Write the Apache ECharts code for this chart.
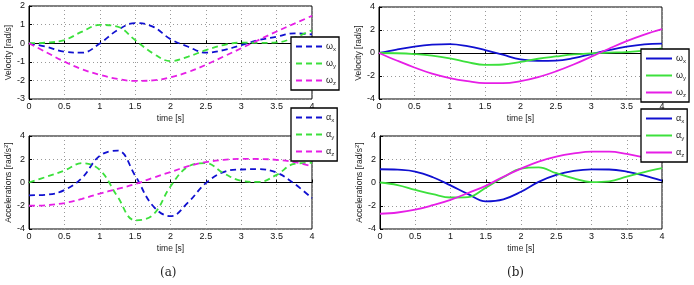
<!DOCTYPE html>
<html>
<head>
    <meta charset="UTF-8">
    <title>angular velocity / acceleration</title>
    <style>
        html, body { margin: 0; padding: 0; background: #fff; }
        #main { width: 694px; height: 285px; }
    </style>
</head>
<body>
<div id="main"></div>
<script src="https://cdn.jsdelivr.net/npm/echarts@6/dist/echarts.min.js"></script>
<script>
    // time samples [s]
    var time = [0, 0.25, 0.5, 0.75, 1, 1.25, 1.5, 1.75, 2, 2.25, 2.5, 2.75, 3, 3.25, 3.5, 3.75, 4];

    // (a) velocity, dashed
    var aWx = [0, -0.2, -0.46, -0.51, -0.02, 0.7, 1.08, 0.89, 0.22, -0.19, -0.51, -0.37, -0.1, 0.17, 0.35, 0.53, 0.47];
    var aWy = [0, 0.03, 0.17, 0.62, 0.98, 0.89, 0.17, -0.54, -0.96, -0.72, -0.37, -0.1, 0.03, 0.02, 0.04, 0.3, 0.7];
    var aWz = [0, -0.5, -0.99, -1.4, -1.7, -1.92, -2.03, -2.0, -1.83, -1.55, -1.16, -0.72, -0.27, 0.18, 0.63, 1.05, 1.47];
    // (a) acceleration, dashed
    var aAx = [-1.1, -1.05, -0.65, 0.4, 2.3, 2.75, 0.6, -2.0, -2.9, -1.7, -0.05, 0.9, 1.12, 1.15, 0.85, -0.1, -1.35];
    var aAy = [0, 0.5, 1.03, 1.66, 1.09, -1.2, -3.25, -2.8, -0.34, 1.37, 1.66, 0.8, 0.15, 0.05, 0.66, 1.6, 1.7];
    var aAz = [-2.0, -1.95, -1.77, -1.4, -0.95, -0.55, -0.14, 0.4, 0.9, 1.4, 1.75, 1.95, 2.03, 2.02, 1.95, 1.75, 1.4];

    // (b) velocity, solid
    var bWx = [0, 0.3, 0.55, 0.72, 0.78, 0.6, 0.26, -0.15, -0.55, -0.68, -0.66, -0.45, -0.1, 0.25, 0.55, 0.75, 0.82];
    var bWy = [0, -0.02, -0.09, -0.22, -0.46, -0.8, -1.03, -1.0, -0.78, -0.5, -0.3, -0.12, -0.03, 0.03, 0.08, 0.2, 0.4];
    var bWz = [0, -0.65, -1.26, -1.8, -2.18, -2.45, -2.62, -2.62, -2.45, -2.1, -1.6, -1.0, -0.32, 0.37, 1.03, 1.6, 2.07];
    // (b) acceleration, solid
    var bAx = [1.14, 1.1, 0.94, 0.45, -0.25, -1.0, -1.62, -1.45, -0.8, 0.05, 0.65, 1.0, 1.13, 1.12, 0.94, 0.6, 0.17];
    var bAy = [0, -0.22, -0.63, -1.0, -1.29, -1.25, -0.45, 0.45, 1.2, 1.3, 0.8, 0.35, 0.03, 0.1, 0.5, 0.9, 1.23];
    var bAz = [-2.69, -2.58, -2.34, -1.95, -1.49, -0.9, -0.29, 0.5, 1.2, 1.8, 2.23, 2.5, 2.66, 2.66, 2.46, 2.15, 1.8];

    var colors = ['#1010d0', '#3ce03c', '#e61ee6'];
    var font = 'Liberation Sans, Arial, sans-serif';

    var grids = [
        {left: 29, top: 6, width: 283, height: 93},
        {left: 29, top: 136, width: 283, height: 93},
        {left: 379, top: 7, width: 283, height: 92},
        {left: 380, top: 136, width: 282, height: 93}
    ];

    function pairs(vals) {
        var out = [];
        for (var i = 0; i < time.length; i++) out.push([time[i], vals[i]]);
        return out;
    }

    var labels = {};
    var series = [];
    function addSeries(gi, key, greek, sub, vals, ci, dashed) {
        labels[key] = '{g|' + greek + '}{s|' + sub + '}';
        series.push({
            name: key,
            type: 'line',
            xAxisIndex: gi,
            yAxisIndex: gi,
            data: pairs(vals),
            smooth: 0.4,
            symbol: 'none',
            color: colors[ci],
            lineStyle: {width: 1.8, color: colors[ci], type: dashed ? [6, 4] : 'solid'},
            animation: false
        });
    }
    addSeries(0, 'aWx', 'ω', 'x', aWx, 0, true);
    addSeries(0, 'aWy', 'ω', 'y', aWy, 1, true);
    addSeries(0, 'aWz', 'ω', 'z', aWz, 2, true);
    addSeries(1, 'aAx', 'α', 'x', aAx, 0, true);
    addSeries(1, 'aAy', 'α', 'y', aAy, 1, true);
    addSeries(1, 'aAz', 'α', 'z', aAz, 2, true);
    addSeries(2, 'bWx', 'ω', 'x', bWx, 0, false);
    addSeries(2, 'bWy', 'ω', 'y', bWy, 1, false);
    addSeries(2, 'bWz', 'ω', 'z', bWz, 2, false);
    addSeries(3, 'bAx', 'α', 'x', bAx, 0, false);
    addSeries(3, 'bAy', 'α', 'y', bAy, 1, false);
    addSeries(3, 'bAz', 'α', 'z', bAz, 2, false);

    var yRanges = [[-3, 2, 1], [-4, 4, 2], [-4, 4, 2], [-4, 4, 2]];
    var yNames = [
        'Velocity [rad/s]',
        '{t|Accelerations [rad/s}{p|2}{t|]}',
        'Velocity [rad/s]',
        '{t|Accelerations [rad/s}{p|2}{t|]}'
    ];

    var xAxes = [], yAxes = [];
    grids.forEach(function (g, i) {
        g.show = true;
        g.borderColor = '#000';
        g.borderWidth = 1;
        g.backgroundColor = '#fff';
        xAxes.push({
            type: 'value', gridIndex: i, min: 0, max: 4, interval: 0.5,
            name: 'time [s]', nameLocation: 'middle', nameGap: 15,
            nameTextStyle: {fontFamily: font, fontSize: 8.5, color: '#222'},
            axisLine: {show: true, lineStyle: {color: '#000', width: 1}},
            axisTick: {show: true, inside: true, length: 3, lineStyle: {color: '#000'}},
            axisLabel: {fontFamily: font, fontSize: 9, color: '#111', margin: 3},
            splitLine: {show: true, lineStyle: {color: '#999', type: [1, 3], width: 1}}
        });
        var r = yRanges[i];
        yAxes.push({
            type: 'value', gridIndex: i, min: r[0], max: r[1], interval: r[2],
            name: yNames[i], nameLocation: 'middle', nameGap: 14,
            nameTextStyle: {
                fontFamily: font, fontSize: 8.5, color: '#222',
                rich: {
                    t: {fontFamily: font, fontSize: 8.5, color: '#222'},
                    p: {fontFamily: font, fontSize: 6, color: '#222', verticalAlign: 'top', padding: [0, 0, 5, 0]}
                }
            },
            axisLine: {show: true, lineStyle: {color: '#000', width: 1}},
            axisTick: {show: true, inside: true, length: 3, lineStyle: {color: '#000'}},
            axisLabel: {fontFamily: font, fontSize: 9, color: '#111', margin: 4},
            splitLine: {show: true, lineStyle: {color: '#999', type: [1, 3], width: 1}}
        });
    });

    var legendPos = [
        {left: 291, top: 37, keys: ['aWx', 'aWy', 'aWz']},
        {left: 291, top: 108, keys: ['aAx', 'aAy', 'aAz']},
        {left: 641, top: 49, keys: ['bWx', 'bWy', 'bWz']},
        {left: 641, top: 109, keys: ['bAx', 'bAy', 'bAz']}
    ];
    var legends = legendPos.map(function (p) {
        return {
            left: p.left, top: p.top, orient: 'vertical',
            data: p.keys,
            itemWidth: 26, itemHeight: 10, itemGap: 7,
            padding: [5, 3, 4, 4],
            backgroundColor: '#fff', borderColor: '#000', borderWidth: 1.3,
            selectedMode: false,
            itemStyle: {opacity: 0},
            formatter: function (name) { return labels[name]; },
            textStyle: {
                padding: [0, 0, 0, -1],
                rich: {
                    g: {fontFamily: font, fontSize: 9, color: '#222'},
                    s: {fontFamily: font, fontSize: 6, color: '#222', verticalAlign: 'bottom', padding: [5, 0, 0, 0]}
                }
            }
        };
    });

    var option = {
        animation: false,
        backgroundColor: '#fff',
        title: [
            {text: '(a)', left: 155, top: 262, textStyle: {fontFamily: 'DejaVu Serif, Liberation Serif, serif', fontSize: 12, fontWeight: 'normal', color: '#222'}},
            {text: '(b)', left: 502, top: 262, textStyle: {fontFamily: 'DejaVu Serif, Liberation Serif, serif', fontSize: 12, fontWeight: 'normal', color: '#222'}}
        ],
        grid: grids,
        xAxis: xAxes,
        yAxis: yAxes,
        legend: legends,
        series: series
    };

    var myChart = echarts.init(document.getElementById('main'));
    myChart.setOption(option);
</script>
</body>
</html>
